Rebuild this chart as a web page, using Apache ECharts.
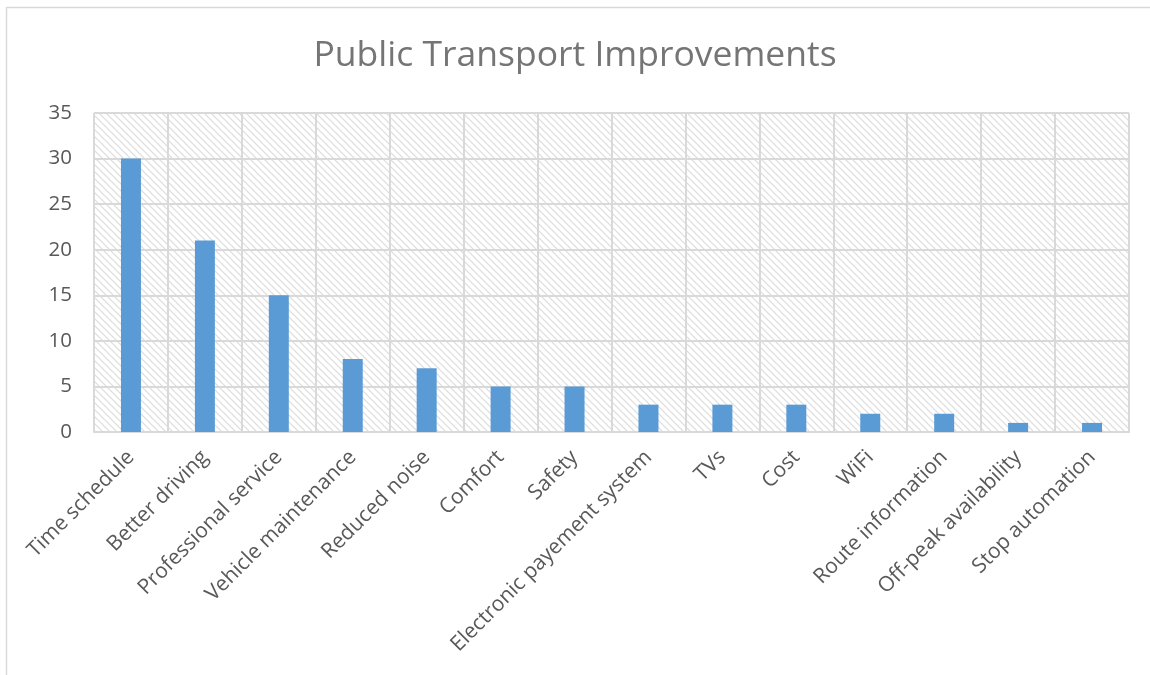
<!DOCTYPE html>
<html>
<head>
<meta charset="utf-8">
<script src="https://cdn.jsdelivr.net/npm/echarts@6/dist/echarts.min.js"></script>
<style>html,body{margin:0;padding:0;background:#fff;}#c{width:1150px;height:675px;}</style>
</head>
<body>
<div id="c"></div>
<script>
const categories = ["Time schedule","Better driving","Professional service","Vehicle maintenance","Reduced noise","Comfort","Safety","Electronic payement system","TVs","Cost","WiFi","Route information","Off-peak availability","Stop automation"];
const values = [30,21,15,8,7,5,5,3,3,3,2,2,1,1];
const yTicks = {min:0, max:35, interval:5};

function hatch(){
  const s = 7;
  const c = document.createElement('canvas');
  c.width = s; c.height = s;
  const g = c.getContext('2d');
  g.fillStyle = '#ffffff'; g.fillRect(0,0,s,s);
  g.strokeStyle = '#dcdcdc'; g.lineWidth = 1.2;
  g.beginPath();
  g.moveTo(-1,-1); g.lineTo(s+1,s+1);
  g.moveTo(-1,s-1); g.lineTo(1,s+1);
  g.moveTo(s-1,-1); g.lineTo(s+1,1);
  g.stroke();
  return c;
}

const chart = echarts.init(document.getElementById('c'));
const font = '"Open Sans", sans-serif';
chart.setOption({
  animation:false,
  backgroundColor:'#ffffff',
  graphic:[{type:'rect', shape:{x:6.5,y:7.5,width:1200,height:720}, style:{fill:'none', stroke:'#d9d9d9', lineWidth:1.5}, silent:true}],
  title:{text:'Public Transport Improvements', left:'center', top:33, textStyle:{fontFamily:font, fontSize:35.5, fontWeight:'normal', color:'#757575'}},
  grid:{left:94, right:21, top:113, bottom:243, show:true, borderWidth:0, backgroundColor:{image:hatch(), repeat:'repeat'}},
  xAxis:{type:'category', data:categories, boundaryGap:true,
    axisLine:{show:true, lineStyle:{color:'#d9d9d9', width:2}},
    axisTick:{show:false},
    splitLine:{show:true, lineStyle:{color:'#d9d9d9', width:2}},
    axisLabel:{interval:0, rotate:45, margin:22, fontFamily:font, fontSize:21, color:'#595959'}},
  yAxis:{type:'value', min:yTicks.min, max:yTicks.max, interval:yTicks.interval,
    axisLine:{show:false}, axisTick:{show:false},
    splitLine:{show:true, lineStyle:{color:'#d9d9d9', width:2}},
    axisLabel:{margin:22, fontFamily:font, fontSize:20.5, color:'#595959'}},
  series:[{type:'bar', data:values, barWidth:20, itemStyle:{color:'#5B9BD5'}}]
});
</script>
</body>
</html>
